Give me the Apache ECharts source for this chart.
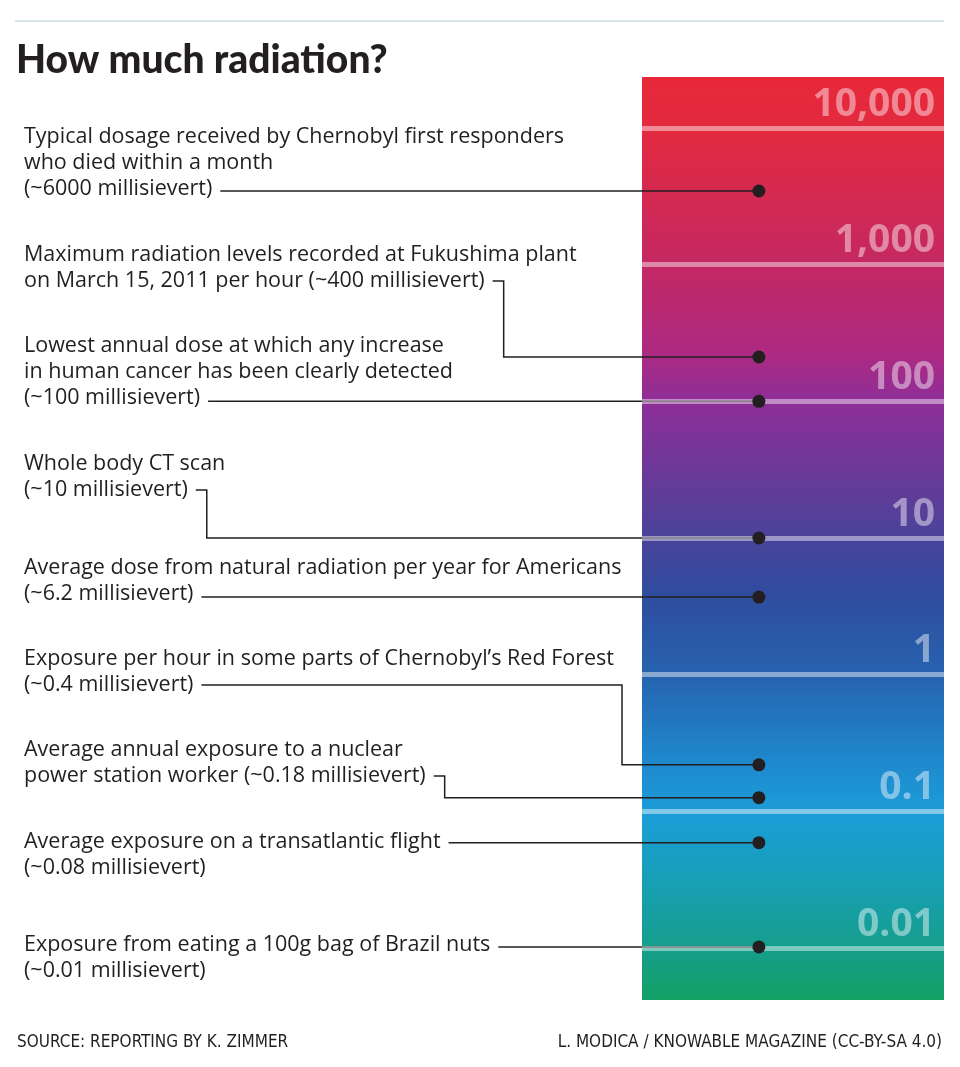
<!DOCTYPE html>
<html lang="en">
<head>
<meta charset="UTF-8">
<title>How much radiation?</title>
<script src="https://cdn.jsdelivr.net/npm/echarts@6/dist/echarts.min.js"></script>
<style>
  html, body { margin: 0; padding: 0; background: #fff; }
  #main { width: 960px; height: 1067px; }
</style>
</head>
<body>
<div id="main"></div>
<script>
// scale marks on the bar (millisievert, log scale)
var scaleTicks = [10000, 1000, 100, 10, 1, 0.1, 0.01];
var tickLabels = ['10,000', '1,000', '100', '10', '1', '0.1', '0.01'];

// annotation texts, one entry per dot
var notes = [
  ['Typical dosage received by Chernobyl first responders', 'who died within a month', '(~6000 millisievert)'],
  ['Maximum radiation levels recorded at Fukushima plant', 'on March 15, 2011 per hour (~400 millisievert)'],
  ['Lowest annual dose at which any increase', 'in human cancer has been clearly detected', '(~100 millisievert)'],
  ['Whole body CT scan', '(~10 millisievert)'],
  ['Average dose from natural radiation per year for Americans', '(~6.2 millisievert)'],
  ['Exposure per hour in some parts of Chernobyl\u2019s Red Forest', '(~0.4 millisievert)'],
  ['Average annual exposure to a nuclear', 'power station worker (~0.18 millisievert)'],
  ['Average exposure on a transatlantic flight', '(~0.08 millisievert)'],
  ['Exposure from eating a 100g bag of Brazil nuts', '(~0.01 millisievert)']
];
var dotAt = [3460, 211, 100, 10, 3.7, 0.219, 0.126, 0.059, 0.0102];

// layout of the text blocks (first line centre, line the connector leaves from, elbow x)
var notePlace = [
  { y: 137, from: 2, elbow: null },
  { y: 255, from: 1, elbow: 495 },
  { y: 346, from: 2, elbow: null },
  { y: 464, from: 1, elbow: 201 },
  { y: 568, from: 1, elbow: null },
  { y: 659, from: 1, elbow: 622 },
  { y: 750, from: 1, elbow: 438 },
  { y: 842, from: 0, elbow: null },
  { y: 945, from: 0, elbow: null }
];

var FONT = '"Open Sans", Lato, sans-serif';
var TITLE_FONT = 'Lato, "Open Sans", sans-serif';
var FOOT_FONT = '17px "Liberation Sans Narrow", "DejaVu Sans Condensed", sans-serif';
var NOTE_FONT = '21.5px ' + FONT;
var INK = '#231F20';
var LH = 26;
var DOT_X = 0.387;

var ctx = document.createElement('canvas').getContext('2d');
ctx.font = NOTE_FONT;
function textEnd(s) { return 24 + ctx.measureText(s).width; }

var myChart = echarts.init(document.getElementById('main'), null, { renderer: 'canvas' });

var graphics = [
  { type: 'line', shape: { x1: 15, y1: 21, x2: 944, y2: 21 }, style: { stroke: '#D5E5E9', lineWidth: 2 } },
  { type: 'text', x: 16, y: 41, style: { text: 'How much radiation?', font: '900 39px ' + TITLE_FONT, fill: INK } },
  { type: 'text', x: 17, y: 1034, style: { text: 'SOURCE: REPORTING BY K. ZIMMER', font: FOOT_FONT, fill: INK } },
  { type: 'text', x: 942, y: 1034, style: { text: 'L. MODICA / KNOWABLE MAGAZINE (CC-BY-SA 4.0)', align: 'right', font: FOOT_FONT, fill: INK } }
];
notes.forEach(function (lines, i) {
  graphics.push({
    type: 'text', x: 24, y: notePlace[i].y - LH / 2,
    style: { text: lines.join('\n'), font: NOTE_FONT, lineHeight: LH, fill: INK, verticalAlign: 'top' }
  });
});

var option = {
  animation: false,
  graphic: graphics,
  grid: {
    left: 642, width: 302, top: 77, height: 923,
    show: true, borderWidth: 0,
    backgroundColor: new echarts.graphic.LinearGradient(0, 0, 0, 1, [
      { offset: 0.00, color: '#E8283A' },
      { offset: 0.06, color: '#E22A40' },
      { offset: 0.20, color: '#C52862' },
      { offset: 0.30, color: '#AC2A82' },
      { offset: 0.35, color: '#8F2E98' },
      { offset: 0.45, color: '#603C98' },
      { offset: 0.56, color: '#2F4C9E' },
      { offset: 0.65, color: '#2664B0' },
      { offset: 0.75, color: '#1E8CCF' },
      { offset: 0.80, color: '#1C9DD8' },
      { offset: 0.87, color: '#179FB6' },
      { offset: 0.944, color: '#169E8C' },
      { offset: 1.00, color: '#13A064' }
    ])
  },
  xAxis: { type: 'value', min: 0, max: 1, show: false },
  yAxis: {
    type: 'log', min: Math.pow(10, -2.38), max: Math.pow(10, 4.373), show: false
  },
  series: [
    {
      type: 'scatter', data: [], silent: true, z: 1,
      markLine: {
        silent: true, symbol: 'none', animation: false,
        lineStyle: { color: 'rgba(255,255,255,0.45)', width: 5, type: 'solid' },
        label: {
          position: 'insideEndTop', distance: [9, 4],
          color: 'rgba(255,255,255,0.45)', fontSize: 39, fontWeight: 'bold', fontFamily: FONT,
          formatter: function (p) { return tickLabels[p.dataIndex]; }
        },
        emphasis: { disabled: true },
        data: scaleTicks.map(function (v) { return { yAxis: v }; })
      }
    },
    {
      type: 'custom', z: 3, clip: false, silent: true,
      data: dotAt.map(function (v) { return [DOT_X, v]; }),
      renderItem: function (params, api) {
        var p = api.coord([api.value(0), api.value(1)]);
        var i = params.dataIndex;
        var place = notePlace[i];
        var ly = place.y + place.from * LH;
        var sx = textEnd(notes[i][place.from]) + 8;
        var pts;
        if (place.elbow != null) {
          // keep a short stub out of the text before the line turns
          var ex = Math.max(place.elbow, sx + 11);
          pts = [[sx, ly], [ex, ly], [ex, p[1]], [p[0], p[1]]];
        } else {
          pts = [[sx, p[1]], [p[0], p[1]]];
        }
        return { type: 'polyline', shape: { points: pts }, style: { stroke: INK, lineWidth: 1.5, fill: null } };
      }
    },
    {
      type: 'scatter', z: 5, silent: true,
      symbolSize: 13,
      itemStyle: { color: INK, opacity: 1 },
      data: dotAt.map(function (v) { return [DOT_X, v]; })
    }
  ]
};
myChart.setOption(option);
</script>
</body>
</html>
